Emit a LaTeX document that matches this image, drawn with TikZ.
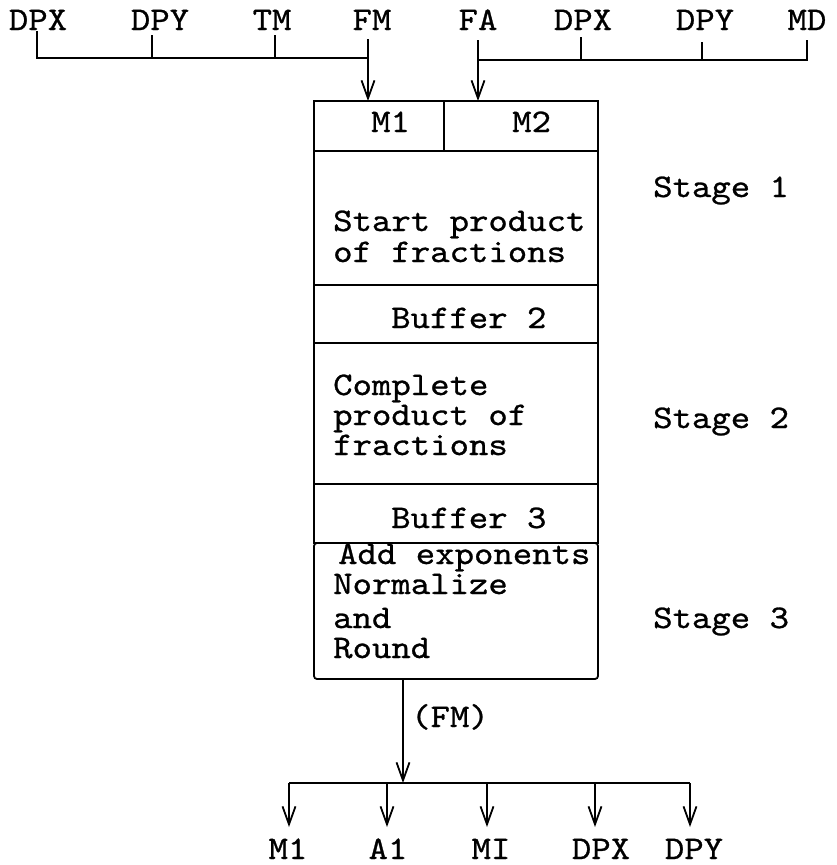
\documentclass[tikz,border=0pt]{standalone}
\usepackage{fontspec}
\setmonofont{lmmono10-regular.otf}[FakeStretch=1.12, FakeBold=0.8]
\usetikzlibrary{positioning,calc,arrows.meta}

\begin{document}
\begin{tikzpicture}[x=1pt, y=-1pt, font=\ttfamily\fontsize{33}{30}\selectfont,
        sect/.style={draw, line width=1.8pt, minimum width=284pt, inner sep=0pt, outer sep=0pt},
        lbl/.style={anchor=base, inner sep=0pt},
        txt/.style={anchor=base west, inner sep=0pt},
        bus/.style={line width=2.8pt},
        tick/.style={line width=1.6pt},
        arr/.style={line width=2.2pt, -{Straight Barb[length=18pt, width=13pt, line width=1.8pt]}}]
        \useasboundingbox (0,0) rectangle (837,865);
        % stacked stages
        \node[sect, minimum width=130pt, minimum height=50pt] (M1) at (379,126) {};
        \node[sect, minimum width=154pt, minimum height=50pt, right=0pt of M1] (M2) {};
        \node[sect, minimum height=134pt, anchor=north west] (S1) at (M1.south west) {};
        \node[sect, minimum height=58pt, anchor=north west] (B2) at (S1.south west) {};
        \node[sect, minimum height=141pt, anchor=north west] (S2) at (B2.south west) {};
        \node[sect, minimum height=59pt, anchor=north west] (B3) at (S2.south west) {};
        \node[sect, minimum height=136pt, anchor=north west, rounded corners=3pt] (S3) at (B3.south west) {};
        \foreach \s in {M1,S1,B2,S2} \draw[bus] (\s.south west) -- (\s.south west -| S1.east);
        \node[txt] at (371,132) {M1};
        \node[txt] at (512,132) {M2};
        \node[txt] (tS1a) at (333,231) {Start product};
        \node[txt] (tS1b) at (333,262) {of fractions};
        \node[txt] (tB2) at (391,328) {Buffer 2};
        \node[txt] (tS2a) at (333,395) {Complete};
        \node[txt] (tS2b) at (333,425) {product of};
        \node[txt] (tS2c) at (333,455) {fractions};
        \node[txt] (tB3) at (391,528) {Buffer 3};
        \node[txt] (tS3a) at (338,564) {Add exponents};
        \node[txt] (tS3b) at (333,594) {Normalize};
        \node[txt] (tS3c) at (333,628) {and};
        \node[txt] (tS3d) at (333,658) {Round};
        \node[txt] (st1) at (653,197) {Stage 1};
        \node[txt] (st2) at (653,428) {Stage 2};
        \node[txt] (st3) at (653,628) {Stage 3};
        % sources
        \node[lbl] (inDPXa) at (38,30) {DPX};
        \node[lbl] (inDPYa) at (160,30) {DPY};
        \node[lbl] (inTM) at (272,30) {TM};
        \node[lbl] (inFM) at (372,30) {FM};
        \node[lbl] (inFA) at (478,30) {FA};
        \node[lbl] (inDPXb) at (583,30) {DPX};
        \node[lbl] (inDPYb) at (705,30) {DPY};
        \node[lbl] (inMD) at (807,30) {MD};
        \coordinate (lbus) at (368,58);
        \coordinate (rbus) at (478,60);
        \draw[bus] (37,31) |- (lbus);
        \draw[tick] (152,35) -- (152,58);
        \draw[tick] (275,35) -- (275,58);
        \draw[arr] (368,39) -- (lbus) -- (lbus |- M1.north);
        \draw[bus] (807,40) |- (rbus);
        \draw[tick] (581,37) -- (581,60);
        \draw[tick] (702,42) -- (702,60);
        \draw[arr] (478,40) -- (rbus) -- (rbus |- M2.north);
        % results
        \coordinate (obus) at (403,783);
        \node[txt] (outFM) at (411,727) {(FM)};
        \draw[arr] (S3.south -| obus) -- (obus);
        \draw[bus] (289,783) -- (690,783);
        \node[lbl] (outM1) at (288,859) {M1};
        \node[lbl] (outA1) at (388,859) {A1};
        \node[lbl] (outMI) at (491,859) {MI};
        \node[lbl] (outDPX) at (601,859) {DPX};
        \node[lbl] (outDPY) at (694,859) {DPY};
        \draw[arr] (289,783) -- (289,827);
        \draw[arr] (387,783) -- (387,827);
        \draw[arr] (487,783) -- (487,827);
        \draw[arr] (595,783) -- (595,827);
        \draw[arr] (690,783) -- (690,827);
    \end{tikzpicture}
\end{document}
